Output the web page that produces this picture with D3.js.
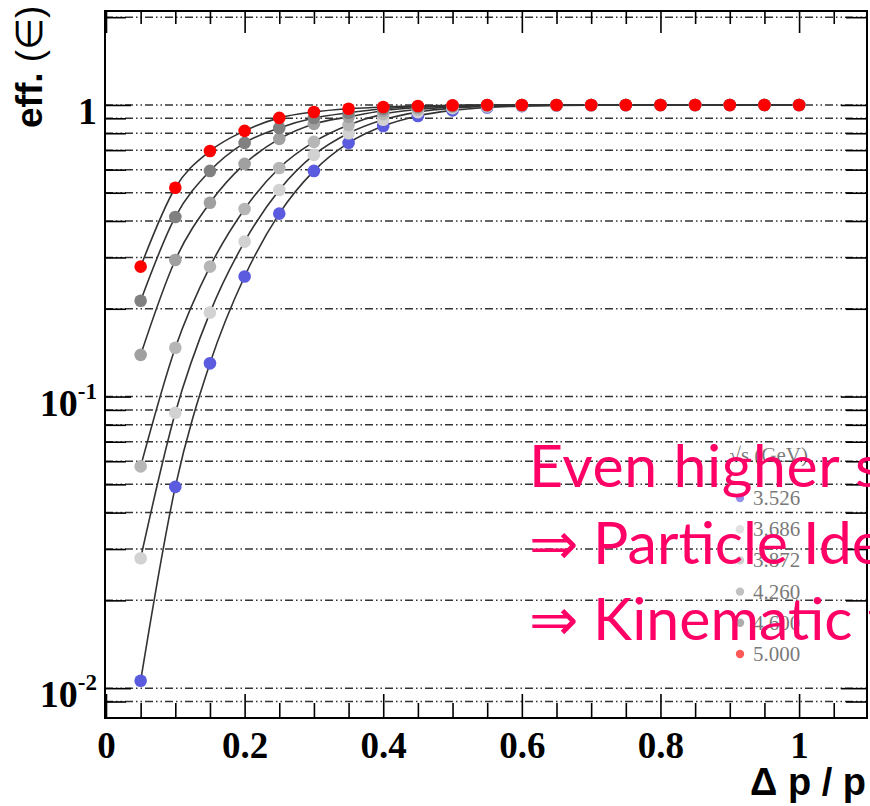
<!DOCTYPE html>
<html lang="en">
<head>
<meta charset="utf-8">
<title>eff vs dp/p</title>
<script src="https://d3js.org/d3.v7.min.js"></script>
<style>
  body { margin: 0; background: #fff; }
  .tick text { font-family: "Liberation Serif", serif; font-weight: bold; }
</style>
</head>
<body>
<div id="chart"></div>
<script>
// data
const dpOverP = [0.05, 0.10, 0.15, 0.20, 0.25, 0.30, 0.35, 0.40, 0.45, 0.50,
                 0.55, 0.60, 0.65, 0.70, 0.75, 0.80, 0.85, 0.90, 0.95, 1.00];
const energies = ["3.526", "3.686", "3.872", "4.260", "4.600", "5.000"];
const colors   = ["#5b5be0", "#d2d2d2", "#b6b6b6", "#a0a0a0", "#808080", "#ff0000"];
const eff3526 = [0.0106, 0.049, 0.130, 0.258, 0.424, 0.594, 0.741, 0.847, 0.917, 0.958, 0.980, 0.991, 0.996, 0.998, 0.999, 1, 1, 1, 1, 1];
const eff3686 = [0.0279, 0.088, 0.194, 0.340, 0.511, 0.674, 0.800, 0.890, 0.945, 0.975, 0.988, 0.995, 0.998, 0.999, 1, 1, 1, 1, 1, 1];
const eff3872 = [0.0576, 0.147, 0.279, 0.440, 0.608, 0.747, 0.854, 0.930, 0.965, 0.985, 0.993, 0.997, 0.999, 1, 1, 1, 1, 1, 1, 1];
const eff4260 = [0.139, 0.294, 0.462, 0.628, 0.765, 0.861, 0.910, 0.955, 0.980, 0.990, 0.997, 0.999, 1, 1, 1, 1, 1, 1, 1, 1];
const eff4600 = [0.213, 0.413, 0.594, 0.741, 0.834, 0.902, 0.940, 0.970, 0.988, 0.995, 0.999, 1, 1, 1, 1, 1, 1, 1, 1, 1];
const eff5000 = [0.279, 0.520, 0.695, 0.815, 0.903, 0.946, 0.970, 0.984, 0.992, 0.998, 1, 1, 1, 1, 1, 1, 1, 1, 1, 1];
const effs = [eff3526, eff3686, eff3872, eff4260, eff4600, eff5000];
const xMajor = [0, 0.2, 0.4, 0.6, 0.8, 1];
const yLabels = [1, 0.1, 0.01];
const noteLines = ["Even higher statistics", "\u21D2 Particle Identification", "\u21D2 Kinematic fitting"];

const width = 870, height = 806;
const fL = 105, fR = 867, fT = 11, fB = 718;

const svg = d3.select("#chart").append("svg")
  .attr("width", width).attr("height", height);

const x = d3.scaleLinear().domain([0, 1.098]).range([fL + 1, fR]);
const y = d3.scaleLog().domain([0.0079, 2.1]).range([fB, fT]);

// dash-dot grid on every log step
const gridVals = [];
[0.001, 0.01, 0.1, 1].forEach(d => { for (let k = 1; k <= 9; k++) gridVals.push(d * k); });
const grid = gridVals.filter(v => v > 0.0081 && v < 2.05);
svg.append("g").selectAll("line").data(grid).enter().append("line")
  .attr("x1", fL).attr("x2", fR)
  .attr("y1", d => y(d)).attr("y2", d => y(d))
  .attr("stroke", "#333").attr("stroke-width", 1.5)
  .attr("stroke-dasharray", "8,3,1.5,3,1.5,3");

// axes (ticks inside the frame)
const isDecade = v => Math.abs(Math.log10(v) - Math.round(Math.log10(v))) < 1e-6;
const axisStyle = g => { g.select(".domain").remove(); g.selectAll("line").attr("stroke", "#000").attr("stroke-width", 1.6); };
const minorX = d3.range(1, 22).map(i => i * 0.05).filter(v => !xMajor.some(m => Math.abs(m - v) < 1e-6));

svg.append("g").attr("transform", `translate(0,${fB})`)
  .call(d3.axisBottom(x).tickValues(minorX).tickSize(-15).tickFormat(""))
  .call(axisStyle);
svg.append("g").attr("transform", `translate(0,${fB})`)
  .call(d3.axisBottom(x).tickValues(xMajor).tickSize(-24).tickPadding(14).tickFormat(d3.format("")))
  .call(axisStyle)
  .selectAll("text").attr("font-size", 37).attr("fill", "#000");
svg.append("g").attr("transform", `translate(0,${fT})`)
  .call(d3.axisTop(x).tickValues(minorX).tickSize(-13).tickFormat(""))
  .call(axisStyle);
svg.append("g").attr("transform", `translate(0,${fT})`)
  .call(d3.axisTop(x).tickValues(xMajor).tickSize(-22).tickFormat(""))
  .call(axisStyle);
[["L", fL], ["R", fR]].forEach(([side, pos]) => {
  const ax = side === "L" ? d3.axisLeft(y) : d3.axisRight(y);
  svg.append("g").attr("transform", `translate(${pos},0)`)
    .call(ax.tickValues(grid).tickSize(-22).tickFormat(""))
    .call(axisStyle)
    .selectAll(".tick line").attr("x2", d => (side === "L" ? 1 : -1) * (isDecade(d) ? 26 : 21));
});

// y labels 1, 10^-1, 10^-2
const ylab = svg.append("g").attr("font-family", "Liberation Serif, serif")
  .attr("font-weight", "bold").attr("text-anchor", "end");
yLabels.forEach(v => {
  const t = ylab.append("text").attr("x", 97).attr("y", y(v) + 19).attr("font-size", 38);
  const p = Math.round(Math.log10(v));
  if (p === 0) { t.text("1"); }
  else {
    t.append("tspan").text("10");
    t.append("tspan").attr("dy", -17).attr("font-size", 23).text(String(p));
  }
});

// frame
svg.append("rect").attr("x", fL).attr("y", fT)
  .attr("width", fR - fL).attr("height", fB - fT)
  .attr("fill", "none").attr("stroke", "#000").attr("stroke-width", 2);

// curves and points
const line = d3.line().x((d, i) => x(dpOverP[i])).y(d => y(d)).curve(d3.curveMonotoneX);
svg.append("g").selectAll("path").data(effs).enter().append("path")
  .attr("d", line).attr("fill", "none")
  .attr("stroke", "#333").attr("stroke-width", 1.6);
effs.forEach((s, k) => {
  svg.append("g").selectAll("circle").data(s).enter().append("circle")
    .attr("cx", (d, i) => x(dpOverP[i])).attr("cy", d => y(d))
    .attr("r", 6.3).attr("fill", colors[k]);
});

// axis titles
svg.append("text").attr("x", 866).attr("y", 795).attr("text-anchor", "end")
  .attr("font-family", "Liberation Sans, Arial, sans-serif").attr("font-weight", "bold")
  .attr("font-size", 38).text("\u0394 p / p");
const yt = svg.append("text").attr("transform", "translate(42,128) rotate(-90)")
  .attr("font-family", "Liberation Sans, Arial, sans-serif").attr("font-size", 37);
yt.append("tspan").attr("font-weight", "bold").text("eff. ");
yt.append("tspan").text("(\u2208)");

// legend (faded)
const leg = svg.append("g").attr("opacity", 0.65)
  .attr("font-family", "Liberation Serif, serif").attr("font-size", 21).attr("fill", "#333");
leg.append("text").attr("x", 808).attr("y", 462).attr("text-anchor", "end").text("\u221As (GeV)");
energies.forEach((e, i) => {
  const yy = 498 + i * 31.2;
  leg.append("circle").attr("cx", 740).attr("cy", yy).attr("r", 4.2).attr("fill", colors[i]);
  leg.append("text").attr("x", 753).attr("y", yy + 7).text(e);
});

// overlaid slide text
const note = svg.append("g").attr("font-family", "Lato, 'Open Sans', sans-serif")
  .attr("font-size", 59).attr("fill", "#ff0066");
noteLines.forEach((t, i) => {
  note.append("text").attr("x", 529).attr("y", 487 + i * 76.5)
    .attr("letter-spacing", i === 0 ? 0.6 : 0).text(t);
});
</script>
</body>
</html>
